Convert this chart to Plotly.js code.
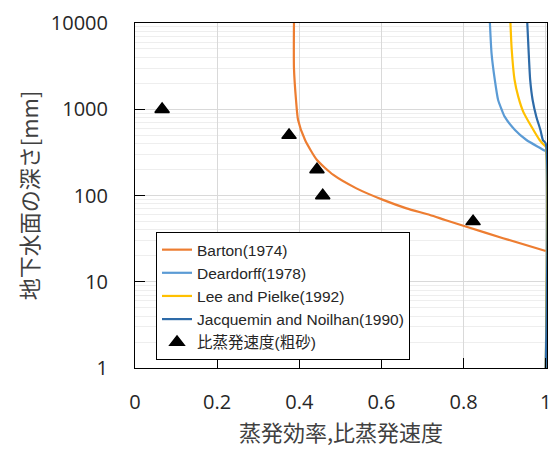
<!DOCTYPE html>
<html>
<head>
<meta charset="utf-8">
<script src="https://cdn.plot.ly/plotly-3.0.1.min.js"></script>
<style>html,body{margin:0;padding:0;background:#fff;}#chart{width:552px;height:450px;}</style>
</head>
<body>
<div id="chart"></div>
<script>
// Depth of water table [mm] vs efficiency
const bartonDepth = [10000, 3000, 1280, 750, 440, 258, 173, 121, 89, 71, 59.4, 52, 43.5, 32, 22.7];
const bartonEff   = [0.387, 0.387, 0.392, 0.397, 0.414, 0.443, 0.483, 0.539, 0.604, 0.661, 0.718, 0.755, 0.807, 0.896, 1.0];

const deardorffDepth = [10000, 4456, 2183, 1280, 980, 820, 575, 440, 358, 330, 328, 1];
const deardorffEff   = [0.864, 0.868, 0.876, 0.884, 0.893, 0.900, 0.925, 0.953, 0.985, 0.998, 1.0, 1.0];

const leeDepth = [10000, 5000, 2200, 1400, 940, 630, 440, 380, 370, 1];
const leeEff   = [0.914, 0.917, 0.924, 0.933, 0.945, 0.965, 0.985, 0.997, 1.0, 1.0];

const jnDepth = [10000, 5000, 2200, 1280, 820, 575, 440, 400, 1];
const jnEff   = [0.955, 0.958, 0.962, 0.968, 0.977, 0.987, 0.993, 1.0, 1.0];

const obsRatio = [0.066, 0.375, 0.443, 0.457, 0.823];
const obsDepth = [1000, 500, 200, 100, 50];

const seriesNames = ['Barton(1974)', 'Deardorff(1978)', 'Lee and Pielke(1992)', 'Jacquemin and Noilhan(1990)', '比蒸発速度(粗砂)'];
const yTickVals = [1, 10, 100, 1000, 10000];
const yTickText = ['1', '10', '100', '1000', '10000'];
const xTickVals = [0, 0.2, 0.4, 0.6, 0.8, 1];
const xTickText = ['0', '0.2', '0.4', '0.6', '0.8', '1'];

const lineStyle = (c) => ({color: c, width: 2.2, shape: 'spline', smoothing: 0.6});

const traces = [
  {x: bartonEff, y: bartonDepth, mode: 'lines', name: seriesNames[0], line: lineStyle('#ED7D31')},
  {x: deardorffEff, y: deardorffDepth, mode: 'lines', name: seriesNames[1], line: lineStyle('#5B9BD5')},
  {x: leeEff, y: leeDepth, mode: 'lines', name: seriesNames[2], line: lineStyle('#FFC000')},
  {x: jnEff, y: jnDepth, mode: 'lines', name: seriesNames[3], line: lineStyle('#2E6BA8')},
  {x: obsRatio, y: obsDepth, mode: 'markers', name: seriesNames[4],
   marker: {symbol: 'triangle-up', size: 12.5, color: '#000', line: {color: '#000', width: 1.5}}}
];

const tickFont = {family: 'Open Sans, Noto Sans CJK JP, sans-serif', size: 20, color: '#262626'};
const titleFont = {family: 'Noto Sans CJK JP, sans-serif', size: 22, color: '#404040'};

const layout = {
  width: 552, height: 450,
  margin: {l: 135, r: 5, t: 23, b: 82},
  paper_bgcolor: '#fff', plot_bgcolor: '#fff',
  showlegend: true,
  legend: {
    x: 0.051, y: 0.394, xanchor: 'left', yanchor: 'top',
    bgcolor: '#fff', bordercolor: '#000', borderwidth: 1,
    font: {family: 'Liberation Sans, Noto Sans CJK JP, sans-serif', size: 15.5, color: '#262626'},
    tracegroupgap: 0
  },
  xaxis: {
    range: [0, 1.003], tickmode: 'array', tickvals: xTickVals, ticktext: xTickText,
    ticks: 'inside', ticklen: 10, tickcolor: '#000', tickwidth: 1,
    showgrid: true, gridcolor: '#d9d9d9', gridwidth: 1,
    showline: true, linecolor: '#000', linewidth: 1, mirror: true,
    zeroline: false, tickfont: tickFont, ticklabelstandoff: 16,
    title: {text: '蒸発効率,比蒸発速度', font: titleFont, standoff: 10}
  },
  yaxis: {
    type: 'log', range: [0, 4], tickmode: 'array', tickvals: yTickVals, ticktext: yTickText,
    ticks: 'inside', ticklen: 10, tickcolor: '#000', tickwidth: 1,
    showgrid: true, gridcolor: '#d9d9d9', gridwidth: 1,
    minor: {dtick: 'D1', showgrid: true, gridcolor: '#eeeeee', gridwidth: 1, ticks: ''},
    showline: true, linecolor: '#000', linewidth: 1, mirror: true,
    zeroline: false, tickfont: tickFont, ticklabelstandoff: 22,
    title: {text: '地下水面の深さ[mm]', font: titleFont, standoff: 6}
  }
};

Plotly.newPlot('chart', traces, layout, {displayModeBar: false, staticPlot: true});
</script>
</body>
</html>
